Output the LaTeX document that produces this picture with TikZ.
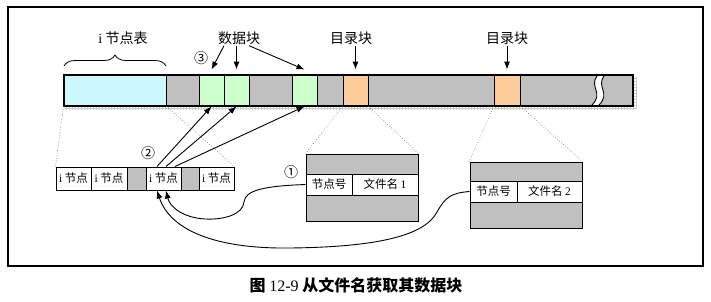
\documentclass[tikz,border=0pt]{standalone}
\usepackage{fontspec}
\setmainfont{Liberation Serif}
\newfontfamily\cjk{Noto Sans CJK SC}
\usetikzlibrary{arrows.meta,decorations.pathreplacing}
\definecolor{segcyan}{HTML}{CCF7FC}
\definecolor{seggreen}{HTML}{CCFFCC}
\definecolor{segorange}{HTML}{FFCC99}
\definecolor{seggray}{HTML}{C0C0C0}
\newcommand\mylab{\fontsize{14}{16}\selectfont\cjk}
\newcommand\mycell{\fontsize{11.5}{13}\selectfont\cjk}
\begin{document}
\begin{tikzpicture}[x=1pt,y=-1pt,
  seg/.style={draw,line width=0.8pt,inner sep=0pt,minimum height=31pt},
  cellbox/.style={draw,line width=1pt,inner sep=0pt,font=\mycell},
  lab/.style={inner sep=1pt,font=\mylab},
  arr/.style={line width=0.9pt,-{Latex[length=8pt,width=6pt]}},
  dots/.style={dotted,line width=0.6pt,gray!80!black}]
\useasboundingbox (0,0) rectangle (711,302);
\draw[line width=1.2pt] (8,7) rectangle (703,266);
% shadow ticks
\draw[gray!40,line width=0.5pt] (64,108.5) -- (636,108.5) -- (636,77);
\foreach \x in {66,69,...,634} \draw[gray!40,line width=0.4pt] (\x,106) -- (\x,110);
\foreach \y in {78,81,...,108} \draw[gray!40,line width=0.4pt] (633,\y) -- (637,\y);
% bar
\node[seg,fill=segcyan,minimum width=102pt] (c1) at (115,90.5) {};
\node[seg,fill=seggray,minimum width=33pt] (g1) at (182.5,90.5) {};
\node[seg,fill=seggreen,minimum width=25pt] (d1) at (211.5,90.5) {};
\node[seg,fill=seggreen,minimum width=25pt] (d2) at (236.5,90.5) {};
\node[seg,fill=seggray,minimum width=43pt] (g2) at (270.5,90.5) {};
\node[seg,fill=seggreen,minimum width=25pt] (d3) at (304.5,90.5) {};
\node[seg,fill=seggray,minimum width=26pt] (g3) at (330,90.5) {};
\node[seg,fill=segorange,minimum width=25pt] (o1) at (355.5,90.5) {};
\node[seg,fill=seggray,minimum width=126pt] (g4) at (431,90.5) {};
\node[seg,fill=segorange,minimum width=26pt] (o2) at (507,90.5) {};
\node[seg,fill=seggray,minimum width=113pt] (g5) at (576.5,90.5) {};
% break mark
\fill[white] (597,76) .. controls (589,87) and (604,93) .. (592,105) -- (599,105) .. controls (611,93) and (596,87) .. (604,76) -- cycle;
\draw[line width=0.9pt] (597,76) .. controls (589,87) and (604,93) .. (592,105);
\draw[line width=0.9pt] (604,76) .. controls (596,87) and (611,93) .. (599,105);
\draw[line width=2pt] (c1.north west) rectangle (g5.south east);
% labels
\node[lab] (it) at (123,38) {{\rmfamily i} 节点表};
\node[lab] (db) at (239,38) {数据块};
\node[lab] (ml1) at (351,38) {目录块};
\node[lab] (ml2) at (507,38) {目录块};
\node[lab] (c3) at (201,58) {③};
\draw[decorate,decoration={brace,amplitude=11pt},line width=0.8pt] (64,66) -- (166,66);
% arrows from labels
\draw[arr] ([xshift=-15pt]db.south) -- ([yshift=5pt]d1.north);
\draw[arr] (db.south -| d2.north) -- ([yshift=5pt]d2.north);
\draw[arr] ([xshift=10pt]db.south) -- ([yshift=5pt]d3.north);
\draw[arr] (ml1.south -| o1.north) -- ([yshift=5pt]o1.north);
\draw[arr] (ml2.south -| o2.north) -- ([yshift=5pt]o2.north);
% inode row
\node[cellbox,minimum width=35pt,minimum height=23pt] (n1) at (73.5,178.5) {{\rmfamily i} 节点};
\node[cellbox,minimum width=36pt,minimum height=23pt] (n2) at (109,178.5) {{\rmfamily i} 节点};
\node[cellbox,fill=seggray,minimum width=19pt,minimum height=23pt] (ng1) at (136.5,178.5) {};
\node[cellbox,minimum width=35pt,minimum height=23pt] (n3) at (163.5,178.5) {{\rmfamily i} 节点};
\node[cellbox,fill=seggray,minimum width=18pt,minimum height=23pt] (ng2) at (190,178.5) {};
\node[cellbox,minimum width=35pt,minimum height=23pt] (n4) at (216.5,178.5) {{\rmfamily i} 节点};
\node[lab] (c2) at (148,153) {②};
% dotted connections
\draw[dots] (c1.south west) -- (n1.north west);
\draw[dots] (c1.south east) -- (n4.north east);
% dir block 1
\node[cellbox,fill=seggray,minimum width=112pt,minimum height=20pt] (b1t) at (362,164) {};
\node[cellbox,minimum width=46pt,minimum height=21pt] (k1) at (329,184.5) {节点号};
\node[cellbox,minimum width=66pt,minimum height=21pt] (f1) at (385,184.5) {文件名 {\rmfamily 1}};
\node[cellbox,fill=seggray,minimum width=112pt,minimum height=26pt] (b1b) at (362,208) {};
\node[lab] (c1l) at (291,172) {①};
% dir block 2
\node[cellbox,fill=seggray,minimum width=112pt,minimum height=19pt] (b2t) at (526,171.5) {};
\node[cellbox,minimum width=47pt,minimum height=21pt] (k2) at (493.5,191.5) {节点号};
\node[cellbox,minimum width=65pt,minimum height=21pt] (f2) at (549.5,191.5) {文件名 {\rmfamily 2}};
\node[cellbox,fill=seggray,minimum width=112pt,minimum height=26pt] (b2b) at (526,215) {};
\draw[dots] (o1.south west) -- (b1t.north west);
\draw[dots] (o1.south east) -- (b1t.north east);
\draw[dots] (o2.south west) -- (b2t.north west);
\draw[dots] (o2.south east) -- (b2t.north east);
% arrows inode -> data blocks
\draw[arr] ([xshift=-6.5pt]n3.north) -- (d1.south);
\draw[arr] ([xshift=2.5pt]n3.north) -- (d2.south);
\draw[arr] ([xshift=11.5pt]n3.north) -- (d3.south);
% curves dir entries -> inode
\draw[arr] (k1.west) .. controls (265,186) and (245,190) .. (244,202) .. controls (243,214) and (225,220) .. (205,219) .. controls (185,218) and (170,208) .. ([xshift=2.5pt]n3.south);
\draw[arr] (k2.west) .. controls (450,193) and (445,198) .. (437,212) .. controls (425,235) and (380,247) .. (290,248) .. controls (215,249) and (170,230) .. ([xshift=-6.5pt]n3.south);
% caption
\node[inner sep=0pt,font=\fontsize{16}{18}\selectfont\cjk\bfseries] (cap) at (356,285) {图 {\rmfamily\mdseries 12-9} 从文件名获取其数据块};
\end{tikzpicture}
\end{document}
